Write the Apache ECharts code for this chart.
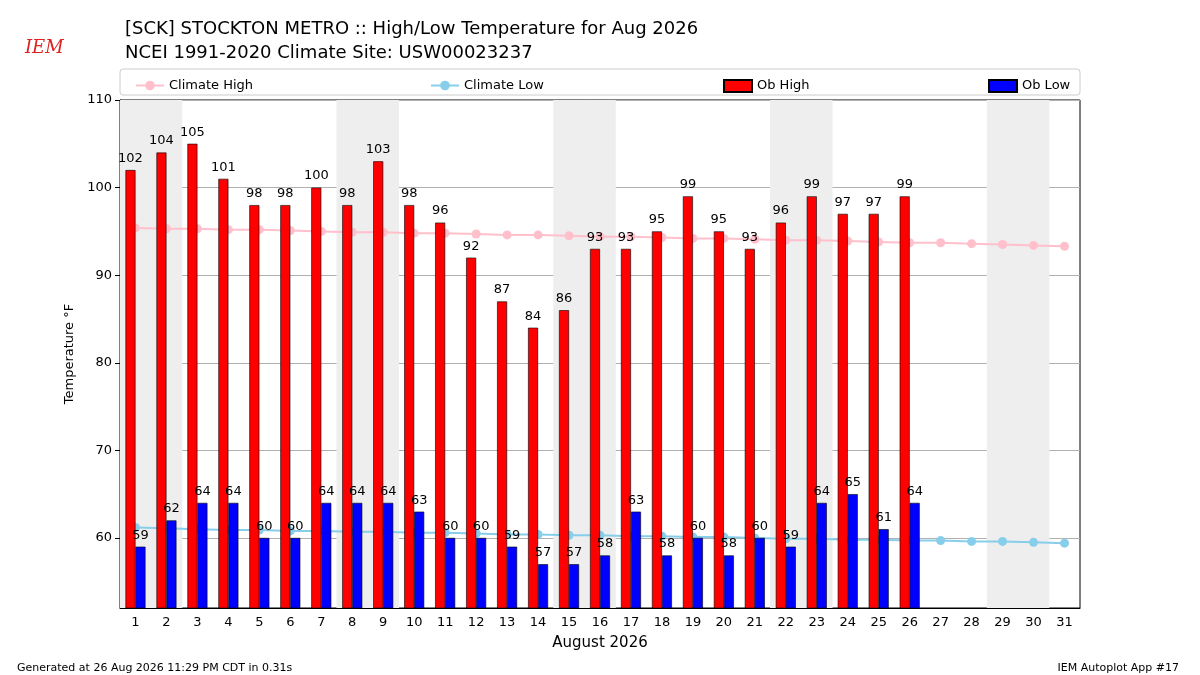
<!DOCTYPE html><html><head><meta charset="utf-8"><script src="https://cdn.jsdelivr.net/npm/echarts@6/dist/echarts.min.js"></script>
<style>body{margin:0}#c{width:1200px;height:675px}</style></head><body><div id="c"></div><script>
const days=Array.from({length:31},(_, i)=>String(i+1));
const obHigh=[102,104,105,101,98,98,100,98,103,98,96,92,87,84,86,93,93,95,99,95,93,96,99,97,97,99];
const obLow=[59,62,64,64,60,60,64,64,64,63,60,60,59,57,57,58,63,58,60,58,60,59,64,65,61,64];
const climHigh=[95.4,95.3,95.3,95.2,95.2,95.1,95.0,94.9,94.9,94.8,94.8,94.7,94.6,94.6,94.5,94.4,94.4,94.3,94.2,94.2,94.1,94.0,94.0,93.9,93.8,93.7,93.7,93.6,93.5,93.4,93.3];
const climLow=[61.2,61.1,61.0,60.9,60.9,60.8,60.8,60.7,60.7,60.6,60.6,60.5,60.4,60.4,60.3,60.3,60.2,60.2,60.1,60.1,60.0,59.9,59.9,59.8,59.8,59.7,59.7,59.6,59.6,59.5,59.4];
const weekendDays=[1,2,8,9,15,16,22,23,29,30];
const shade=days.map(d=>weekendDays.includes(+d)?110:'-');
const ch=echarts.init(document.getElementById('c'));
const F='DejaVu Sans';
const lg=(name,left,icon)=>({data:[{name:name,icon:icon}],left:left,top:74,itemWidth:28,itemHeight:12,textStyle:{fontFamily:F,fontSize:13,color:'#000'}});
ch.setOption({animation:false,textStyle:{fontFamily:F},
title:[{text:'[SCK] STOCKTON METRO :: High/Low Temperature for Aug 2026\nNCEI 1991-2020 Climate Site: USW00023237',left:120,top:12,textStyle:{fontFamily:F,fontSize:18,fontWeight:'normal',lineHeight:24,color:'#000'}},
{text:'Generated at 26 Aug 2026 11:29 PM CDT in 0.31s',left:12,top:658,textStyle:{fontFamily:F,fontSize:11,fontWeight:'normal',color:'#000'}},
{text:'IEM Autoplot App #17',right:16,top:658,textStyle:{fontFamily:F,fontSize:11,fontWeight:'normal',color:'#000'}},
{text:'IEM',left:20,top:34,textStyle:{fontFamily:'DejaVu Serif',fontStyle:'italic',fontSize:18,fontWeight:'normal',color:'#d22'}}],
graphic:[{type:'rect',shape:{x:120,y:69,width:960,height:26,r:3},style:{fill:'none',stroke:'#ccc'}}],
legend:[lg('Climate High',130),lg('Climate Low',425),lg('Ob High',718,'rect'),lg('Ob Low',983,'rect')],
grid:{left:120,right:120,top:100,bottom:67,show:true,borderColor:'#000',borderWidth:1},
xAxis:[{type:'category',data:days,axisTick:{alignWithLabel:true,length:5,lineStyle:{color:'#000'}},axisLine:{lineStyle:{color:'#000'}},axisLabel:{color:'#000',fontSize:13,fontFamily:F},name:'August 2026',nameLocation:'middle',nameGap:28,nameTextStyle:{fontSize:15,color:'#000',fontFamily:F}},
{type:'category',data:days,show:false}],
yAxis:{type:'value',min:52,max:110,interval:10,axisLabel:{color:'#000',fontSize:13,fontFamily:F,customValues:[60,70,80,90,100,110]},axisTick:{show:true,length:5,customValues:[60,70,80,90,100,110],lineStyle:{color:'#000'}},axisLine:{show:true,lineStyle:{color:'#000'}},splitLine:{lineStyle:{color:'#b0b0b0'}},name:'Temperature °F',nameLocation:'middle',nameGap:42,nameTextStyle:{fontSize:13,color:'#000',fontFamily:F}},
series:[
{type:'bar',xAxisIndex:1,data:shade,barWidth:'102%',itemStyle:{color:'#eeeeee'},silent:true,z:0},
{name:'Ob High',type:'bar',data:obHigh,barWidth:10,barGap:'0%',itemStyle:{color:'#ff0000',borderColor:'#000',borderWidth:0.6},label:{show:true,position:'top',color:'#000',fontSize:13,fontFamily:F},z:4},
{name:'Ob Low',type:'bar',data:obLow,barWidth:10,barGap:'0%',itemStyle:{color:'#0000ff',borderColor:'#000',borderWidth:0.6},label:{show:true,position:'top',color:'#000',fontSize:13,fontFamily:F},z:4},
{name:'Climate High',type:'line',data:climHigh,symbol:'circle',symbolSize:9,itemStyle:{color:'#ffc0cb'},lineStyle:{color:'#ffc0cb',width:2},z:3},
{name:'Climate Low',type:'line',data:climLow,symbol:'circle',symbolSize:9,itemStyle:{color:'#87ceeb'},lineStyle:{color:'#87ceeb',width:2},z:3}
]});
</script></body></html>
